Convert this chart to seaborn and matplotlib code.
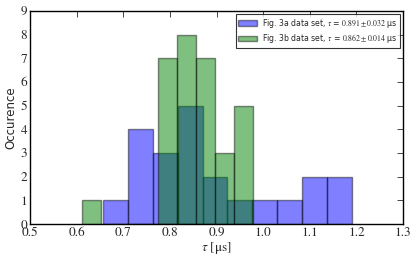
import numpy as np
import pandas as pd
import seaborn as sns
import matplotlib.pyplot as plt

# lifetime histograms, tau in microseconds
range_3a = (0.657, 1.190)
counts_3a = [1, 4, 3, 5, 2, 1, 1, 1, 2, 2]
range_3b = (0.612, 0.979)
counts_3b = [1, 0, 0, 0, 7, 8, 7, 3, 5]

label_3a = r"Fig. 3a data set, $\tau$ = $0.891 \pm 0.032$ μs"
label_3b = r"Fig. 3b data set, $\tau$ = $0.862 \pm 0.014$ μs"

x_ticks = [0.5, 0.6, 0.7, 0.8, 0.9, 1.0, 1.1, 1.2, 1.3]
y_ticks = [0, 1, 2, 3, 4, 5, 6, 7, 8, 9]


def centers(rng, counts):
    edges = np.linspace(rng[0], rng[1], len(counts) + 1)
    return (edges[:-1] + edges[1:]) / 2


df_a = pd.DataFrame({"tau": centers(range_3a, counts_3a), "n": counts_3a})
df_b = pd.DataFrame({"tau": centers(range_3b, counts_3b), "n": counts_3b})

sns.set_style("white")
plt.rcParams["font.family"] = ["DejaVu Sans"]
plt.rcParams["mathtext.fontset"] = "stix"

fig = plt.figure(figsize=(4.16, 2.60), dpi=100)
ax = fig.add_axes([0.072, 0.138, 0.897, 0.82])

edge = (0, 0, 0, 0.45)
sns.histplot(data=df_a, x="tau", weights="n", bins=len(counts_3a), binrange=range_3a,
             color="b", alpha=0.5, edgecolor=edge, linewidth=1.0, label=label_3a, ax=ax)
sns.histplot(data=df_b, x="tau", weights="n", bins=len(counts_3b), binrange=range_3b,
             color="g", alpha=0.5, edgecolor=edge, linewidth=1.0, label=label_3b, ax=ax)

ax.set_xlim(0.5, 1.3)
ax.set_ylim(0, 9)
ax.set_xticks(x_ticks)
ax.set_yticks(y_ticks)
ax.set_xticklabels([f"{t:.1f}" for t in x_ticks], fontfamily="STIXGeneral", fontsize=9.5)
ax.set_yticklabels([str(t) for t in y_ticks], fontfamily="STIXGeneral", fontsize=9.5)
ax.tick_params(direction="in", top=True, right=True, length=4, width=0.6, pad=2)
for s in ax.spines.values():
    s.set_linewidth(1.0)
    s.set_color("k")

ax.set_xlabel(r"$\tau$ [μs]", fontfamily="STIXGeneral", fontsize=9.5, labelpad=1)
ax.set_ylabel("Occurence", fontsize=8.5, labelpad=2)

leg = ax.legend(loc="upper right", frameon=True, fancybox=False,
                prop={"family": ["DejaVu Sans"], "size": 5.6},
                borderaxespad=0.4, handlelength=2.4, handletextpad=0.6,
                borderpad=0.35, labelspacing=0.3)
leg.get_frame().set_edgecolor("k")
leg.get_frame().set_linewidth(0.8)
for t in leg.get_texts():
    t.set_fontfamily(["DejaVu Sans", "STIXGeneral"])

plt.savefig("out.png", dpi=100)
